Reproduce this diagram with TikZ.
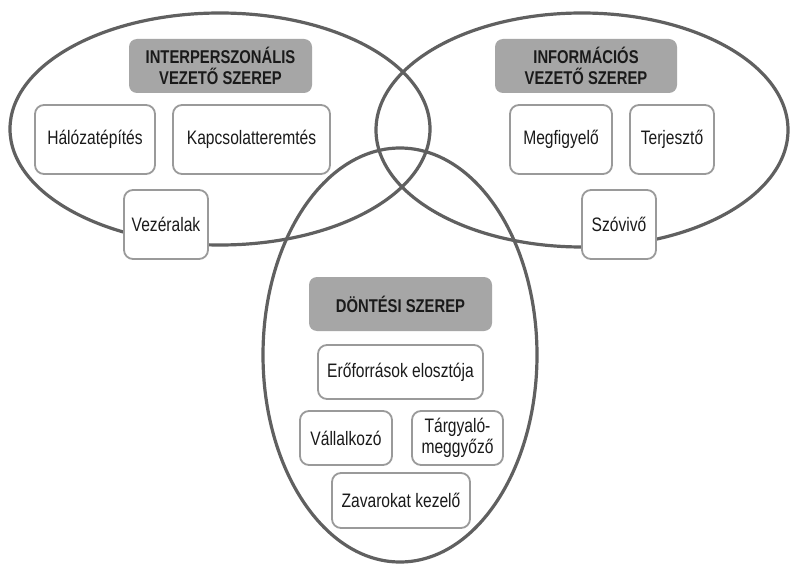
\documentclass[tikz,border=0pt]{standalone}
\usepackage{fontspec}
\setmainfont{Liberation Sans}[FakeStretch=0.8]
\begin{document}
\begin{tikzpicture}[x=1pt,y=-1pt,
  ring/.style={draw=ringgray,line width=3.2pt},
  header/.style={draw=none,fill=headgray,rounded corners=8pt,inner sep=0pt,
    align=center,font=\fontsize{18.5}{21}\selectfont\bfseries,text=textblack},
  role/.style={draw=boxgray,line width=1.8pt,fill=white,rounded corners=9pt,inner sep=0pt,
    align=center,font=\fontsize{19.5}{21}\selectfont,text=textblack}]
\definecolor{ringgray}{HTML}{606060}
\definecolor{headgray}{HTML}{A6A6A6}
\definecolor{boxgray}{HTML}{9A9A9A}
\definecolor{textblack}{HTML}{1A1A1A}
\useasboundingbox[fill=white] (0,0) rectangle (792,564);

% three overlapping role areas
\draw[ring] (220,129) ellipse [x radius=210pt, y radius=116pt];
\draw[ring] (582,130) ellipse [x radius=206pt, y radius=117pt];
\draw[ring] (400,355) ellipse [x radius=137pt, y radius=207pt];

% interpersonal roles
\node[header, minimum width=183pt, minimum height=54pt] (hInt) at (220.5,66) {INTERPERSZONÁLIS\\VEZETŐ SZEREP};
\node[role, minimum width=120pt, minimum height=69pt] (hal) at (95,139.5) {Hálózatépítés};
\node[role, minimum width=157pt, minimum height=69pt] (kap) at (251.5,139.5) {Kapcsolatteremtés};
\node[role, minimum width=84pt, minimum height=69pt] (vez) at (166,224.5) {Vezéralak};

% informational roles
\node[header, minimum width=182pt, minimum height=54pt] (hInf) at (586,66) {INFORMÁCIÓS\\VEZETŐ SZEREP};
\node[role, minimum width=102pt, minimum height=69pt] (meg) at (561,139.5) {Megfigyelő};
\node[role, minimum width=84pt, minimum height=69pt] (ter) at (672,139.5) {Terjesztő};
\node[role, minimum width=74pt, minimum height=69pt] (szo) at (619,224.5) {Szóvivő};

% decisional roles
\node[header, minimum width=183pt, minimum height=54pt] (hDon) at (400.5,304) {DÖNTÉSI SZEREP};
\node[role, minimum width=165pt, minimum height=54pt] (ero) at (400.5,372) {Erőforrások elosztója};
\node[role, minimum width=92pt, minimum height=54pt] (val) at (346,438) {Vállalkozó};
\node[role, minimum width=91pt, minimum height=54pt] (tar) at (457.5,438) {Tárgyaló-\\meggyőző};
\node[role, minimum width=138pt, minimum height=55pt] (zav) at (401,500.5) {Zavarokat kezelő};
\end{tikzpicture}
\end{document}
